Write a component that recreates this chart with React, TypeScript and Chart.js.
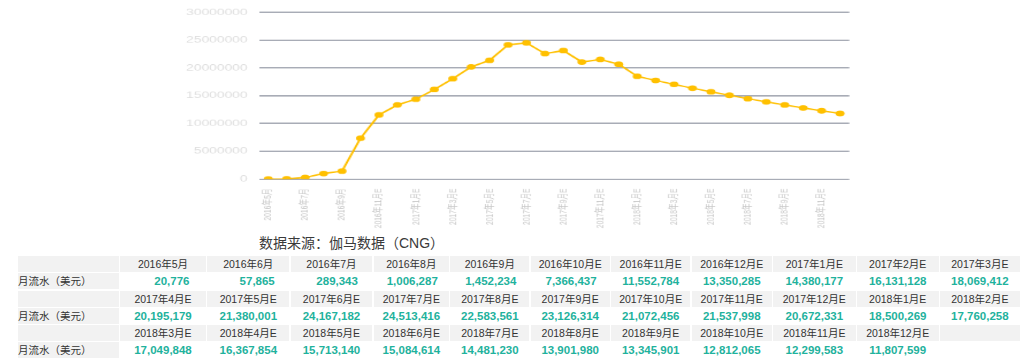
import React, { useEffect, useRef } from "react";
import { Chart, registerables } from "chart.js";

Chart.register(...registerables);

const months: string[] = [
  "2016年5月", "2016年6月", "2016年7月", "2016年8月", "2016年9月", "2016年10月E",
  "2016年11月E", "2016年12月E", "2017年1月E", "2017年2月E", "2017年3月E",
  "2017年4月E", "2017年5月E", "2017年6月E", "2017年7月E", "2017年8月E",
  "2017年9月E", "2017年10月E", "2017年11月E", "2017年12月E", "2018年1月E",
  "2018年2月E", "2018年3月E", "2018年4月E", "2018年5月E", "2018年6月E",
  "2018年7月E", "2018年8月E", "2018年9月E", "2018年10月E", "2018年11月E",
  "2018年12月E",
];

const revenue: number[] = [
  20776, 57865, 289343, 1006287, 1452234, 7366437, 11552784, 13350285, 14380177,
  16131128, 18069412, 20195179, 21380001, 24167182, 24513416, 22583561, 23126314,
  21072456, 21537998, 20672331, 18500269, 17760258, 17049848, 16367854, 15713140,
  15084614, 14481230, 13901980, 13345901, 12812065, 12299583, 11807599,
];

const yTicks: number[] = [0, 5000000, 10000000, 15000000, 20000000, 25000000, 30000000];

const sourceText = "数据来源：伽马数据（CNG）";
const rowLabel = "月流水（美元）";
const perRow = 11;

const colWidths = [100.7, 86, 82, 81.7, 75.5, 79, 79, 79.5, 80, 82.5, 81.7, 80];

const FONT = '"Liberation Sans", "Noto Sans CJK SC", sans-serif';

// internal canvas size and its displayed (stretched) size
const INT_W = 591;
const INT_H = 322;
const DISP_W = 680;
const DISP_H = 232;

function fmt(n: number): string {
  return n.toLocaleString("en-US");
}

function ChartCanvas() {
  const ref = useRef<HTMLCanvasElement | null>(null);
  useEffect(() => {
    if (!ref.current) return;
    const chart = new Chart(ref.current, {
      type: "line",
      data: {
        labels: months,
        datasets: [
          {
            data: revenue,
            borderColor: "#FFC000",
            backgroundColor: "#FFC000",
            pointBackgroundColor: "#FFC000",
            pointBorderColor: "#FFC000",
            pointBorderWidth: 0,
            pointRadius: 3.9,
            borderWidth: 2,
            tension: 0,
            fill: false,
          },
        ],
      },
      options: {
        responsive: false,
        animation: false,
        events: [],
        plugins: { legend: { display: false }, tooltip: { enabled: false } },
        layout: { padding: { left: 0, right: 9.3, top: 14.6, bottom: 0 } },
        scales: {
          x: {
            offset: true,
            grid: { display: false },
            border: { display: false },
            ticks: {
              autoSkip: false,
              maxRotation: 90,
              minRotation: 90,
              padding: 5,
              color: "#c8c8c8",
              font: { size: 9.3, family: FONT },
              callback: (_v: any, i: number) => (i % 2 === 0 ? months[i] : ""),
            },
            afterFit: (s: any) => {
              s.height = 73.4;
            },
          },
          y: {
            min: yTicks[0],
            max: yTicks[yTicks.length - 1],
            afterBuildTicks: (s: any) => {
              s.ticks = yTicks.map((v) => ({ value: v }));
            },
            ticks: {
              padding: 10,
              color: "#dedede",
              font: { size: 12, family: FONT },
              callback: (v: any) => String(v),
            },
            grid: { color: "#a8acb6", lineWidth: 2, drawTicks: false },
            border: { display: false },
            afterFit: (s: any) => {
              s.width = 68.7;
            },
          },
        },
      },
    } as any);
    if (ref.current) {
      ref.current.style.width = DISP_W + "px";
      ref.current.style.height = DISP_H + "px";
    }
    return () => chart.destroy();
  }, []);
  return (
    <canvas
      ref={ref}
      width={INT_W}
      height={INT_H}
      style={{ position: "absolute", left: 180, top: 0, width: DISP_W, height: DISP_H }}
    />
  );
}

const GRAY = "#f2f2f2";

function DataTable() {
  const blocks: number[][] = [];
  for (let i = 0; i < months.length; i += perRow) {
    const idx: number[] = [];
    for (let j = 0; j < perRow; j++) idx.push(i + j);
    blocks.push(idx);
  }
  const cells: React.ReactNode[] = [];
  blocks.forEach((idx, b) => {
    cells.push(<div key={`h0-${b}`} style={{ background: GRAY }} />);
    idx.forEach((k) => {
      cells.push(
        <div
          key={`h-${b}-${k}`}
          style={{
            background: GRAY,
            color: "#333",
            fontSize: 10.5,
            display: "flex",
            alignItems: "center",
            justifyContent: "center",
            whiteSpace: "nowrap",
          }}
        >
          {k < months.length ? months[k] : ""}
        </div>
      );
    });
    cells.push(
      <div
        key={`l-${b}`}
        style={{
          background: GRAY,
          color: "#333",
          fontSize: 10.5,
          display: "flex",
          alignItems: "center",
          whiteSpace: "nowrap",
        }}
      >
        {rowLabel}
      </div>
    );
    idx.forEach((k) => {
      cells.push(
        <div
          key={`v-${b}-${k}`}
          style={{
            display: "flex",
            alignItems: "center",
            justifyContent: "center",
            whiteSpace: "nowrap",
          }}
        >
          <span
            style={{
              display: "inline-block",
              minWidth: 53,
              textAlign: "right",
              color: "#1fb29d",
              fontWeight: "bold",
              fontSize: 11.5,
            }}
          >
            {k < revenue.length ? fmt(revenue[k]) : ""}
          </span>
        </div>
      );
    });
  });
  return (
    <div
      style={{
        position: "absolute",
        left: 18,
        top: 256,
        display: "grid",
        gridTemplateColumns: colWidths.map((w) => w + "px").join(" "),
        gridTemplateRows: "repeat(6, 16px)",
        columnGap: 1.3,
        rowGap: 1.25,
        fontFamily: FONT,
        lineHeight: "16px",
      }}
    >
      {cells}
    </div>
  );
}

export default function App() {
  return (
    <div
      style={{
        position: "absolute",
        left: 0,
        top: 0,
        width: 1030,
        height: 364,
        overflow: "hidden",
        background: "#fff",
        fontFamily: FONT,
      }}
    >
      <ChartCanvas />
      <div
        style={{
          position: "absolute",
          left: 259,
          top: 233,
          fontSize: 14,
          lineHeight: "20px",
          color: "#3a3a3a",
          whiteSpace: "nowrap",
        }}
      >
        {sourceText}
      </div>
      <DataTable />
    </div>
  );
}
